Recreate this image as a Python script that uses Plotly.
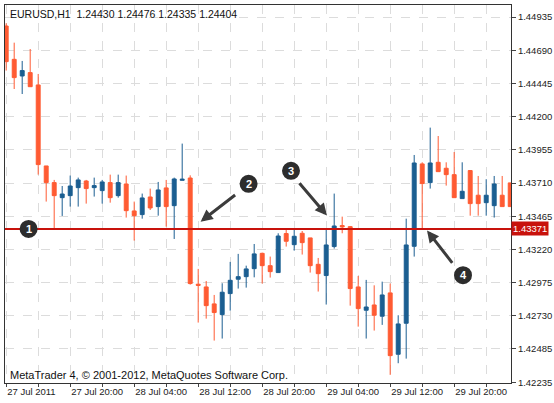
import plotly.graph_objects as go

# EURUSD H1 candles, 27 Jul 2011 12:00 onwards (one per hour)
opens = [1.44869, 1.44623, 1.44500, 1.44525, 1.44434, 1.43836, 1.43713, 1.43602, 1.43617, 1.43676,
         1.43725, 1.43676, 1.43654, 1.43713, 1.43617, 1.43703, 1.43504, 1.43477, 1.43607, 1.43536,
         1.43674, 1.43543, 1.43730, 1.43747, 1.42963, 1.42943, 1.42818, 1.42739, 1.42894, 1.43000,
         1.43019, 1.43078, 1.43191, 1.43100, 1.43049, 1.43337, 1.43255, 1.43339, 1.43305, 1.43110,
         1.43027, 1.43241, 1.43396, 1.43388, 1.42943, 1.42771, 1.42810, 1.42727, 1.42899, 1.42446,
         1.42675, 1.43243, 1.43851, 1.43713, 1.43863, 1.43819, 1.43772, 1.43595, 1.43802, 1.43620,
         1.43565, 1.43543, 1.43620, 1.43711]
highs = [1.44889, 1.44746, 1.44611, 1.44699, 1.44515, 1.43836, 1.43733, 1.43688, 1.43765, 1.43750,
         1.43733, 1.43750, 1.43733, 1.43772, 1.43772, 1.43765, 1.43573, 1.43632, 1.43669, 1.43718,
         1.43733, 1.43750, 1.44001, 1.43767, 1.43076, 1.42987, 1.42884, 1.42970, 1.43128, 1.43187,
         1.43100, 1.43260, 1.43196, 1.43167, 1.43339, 1.43376, 1.43364, 1.43356, 1.43305, 1.43157,
         1.43364, 1.43632, 1.43462, 1.43393, 1.43024, 1.42995, 1.42955, 1.42982, 1.42968, 1.42734,
         1.43447, 1.43917, 1.43863, 1.44119, 1.44057, 1.43863, 1.43939, 1.43863, 1.43806, 1.43762,
         1.43738, 1.43762, 1.43762, 1.43711]
lows = [1.44540, 1.44404, 1.44367, 1.44421, 1.43772, 1.43573, 1.43371, 1.43467, 1.43536, 1.43536,
        1.43558, 1.43610, 1.43558, 1.43565, 1.43602, 1.43455, 1.43285, 1.43447, 1.43511, 1.43469,
        1.43388, 1.43297, 1.43730, 1.42960, 1.42680, 1.42709, 1.42547, 1.42562, 1.42768, 1.42931,
        1.42938, 1.43014, 1.42968, 1.43012, 1.43049, 1.43241, 1.43211, 1.43182, 1.43049, 1.42909,
        1.42813, 1.43226, 1.43339, 1.42805, 1.42650, 1.42562, 1.42621, 1.42663, 1.42294, 1.42380,
        1.42414, 1.43167, 1.43371, 1.43669, 1.43794, 1.43691, 1.43602, 1.43595, 1.43469, 1.43469,
        1.43469, 1.43455, 1.43536, 1.43536]
closes = [1.44606, 1.44488, 1.44540, 1.44421, 1.43846, 1.43713, 1.43617, 1.43629, 1.43688, 1.43733,
          1.43669, 1.43691, 1.43718, 1.43602, 1.43713, 1.43506, 1.43469, 1.43600, 1.43526, 1.43659,
          1.43536, 1.43740, 1.43738, 1.42968, 1.42955, 1.42805, 1.42754, 1.42904, 1.42992, 1.43019,
          1.43076, 1.43187, 1.43100, 1.43056, 1.43319, 1.43280, 1.43317, 1.43270, 1.43100, 1.43041,
          1.43253, 1.43393, 1.43386, 1.42931, 1.42783, 1.42795, 1.42734, 1.42884, 1.42436, 1.42670,
          1.43253, 1.43858, 1.43706, 1.43858, 1.43794, 1.43772, 1.43602, 1.43649, 1.43558, 1.43558,
          1.43620, 1.43703, 1.43536, 1.43536]

x_tick_labels = ["27 Jul 2011", "27 Jul 20:00", "28 Jul 04:00", "28 Jul 12:00",
                 "28 Jul 20:00", "29 Jul 04:00", "29 Jul 12:00", "29 Jul 20:00"]
y_ticks = [1.44935, 1.44690, 1.44445, 1.44200, 1.43955, 1.43710, 1.43465,
           1.43220, 1.42975, 1.42730, 1.42485, 1.42235]
level = 1.43371

# circled markers: (label, bar index, price)
markers = [("1", 2.8, 1.43371), ("2", 30.3, 1.43704), ("3", 35.6, 1.43800), ("4", 57.1, 1.43030)]
# arrows: (from index, from price, to index, to price)
arrows = [(28.8, 1.43630, 24.3, 1.43425), (36.5, 1.43720, 40.1, 1.43470), (55.9, 1.43110, 52.6, 1.43360)]

BLUE = "#1b5e91"
ORANGE = "#ff5b33"
FONT = "Liberation Sans"

xs = list(range(len(opens)))
fig = go.Figure(go.Candlestick(
    x=xs, open=opens, high=highs, low=lows, close=closes,
    increasing=dict(line=dict(color=BLUE, width=1), fillcolor=BLUE),
    decreasing=dict(line=dict(color=ORANGE, width=1), fillcolor=ORANGE),
    whiskerwidth=0, hoverinfo="skip",
))

fig.add_hline(y=level, line=dict(color="#c8120c", width=2))

grid_vals = list(range(0, 64, 4))
fig.update_layout(
    width=554, height=403,
    margin=dict(l=5, r=43, t=5, b=20),
    paper_bgcolor="white", plot_bgcolor="white",
    showlegend=False,
    font=dict(family=FONT, size=9, color="#222"),
    xaxis=dict(
        range=[-0.15, 63.1], rangeslider=dict(visible=False),
        tickvals=grid_vals,
        ticktext=[x_tick_labels[i // 2] if i % 2 == 0 else "" for i in range(len(grid_vals))],
        ticklabelposition="outside right", ticks="outside", ticklen=3, tickangle=0,
        showgrid=True, gridcolor="#dcdcdc", griddash="dash", automargin=False,
        showline=True, linecolor="#333", mirror=True, zeroline=False,
        tickfont=dict(size=9.5),
    ),
    yaxis=dict(
        range=[1.42234, 1.45024], side="right",
        tickvals=y_ticks, ticktext=[f"{v:.5f}" for v in y_ticks],
        ticks="outside", ticklen=4, automargin=False,
        showgrid=True, gridcolor="#dcdcdc", griddash="dash",
        showline=True, linecolor="#333", mirror=True, zeroline=False,
        tickfont=dict(size=9.5),
    ),
)

fig.add_annotation(x=1, xref="paper", y=level, text=f"{level:.5f}", showarrow=False,
                   xanchor="left", bgcolor="#c8120c", font=dict(color="white", size=9.5),
                   borderpad=1)
fig.add_annotation(x=0.005, xref="paper", y=0.997, yref="paper", xanchor="left", yanchor="top",
                   text="EURUSD,H1  1.24430 1.24476 1.24335 1.24404", showarrow=False,
                   font=dict(size=10.5, color="#111"))
fig.add_annotation(x=0.005, xref="paper", y=0.0, yref="paper", xanchor="left", yanchor="bottom",
                   text="MetaTrader 4, © 2001-2012, MetaQuotes Software Corp.", showarrow=False,
                   font=dict(size=11, color="#111"))

for x0, y0, x1, y1 in arrows:
    fig.add_annotation(x=x1, y=y1, ax=x0, ay=y0, axref="x", ayref="y", text="",
                       showarrow=True, arrowhead=2, arrowsize=0.8, arrowwidth=3,
                       arrowcolor="#3c3c3c")

for label, mx, my in markers:
    fig.add_shape(type="circle", xref="x", yref="y", xsizemode="pixel", ysizemode="pixel",
                  xanchor=mx, yanchor=my, x0=-8, x1=8, y0=-8, y1=8,
                  fillcolor="#2d2d2d", line=dict(color="#2d2d2d"))
    fig.add_annotation(x=mx, y=my, text=f"<b>{label}</b>", showarrow=False,
                       font=dict(color="white", size=11))

# page body has a default margin; drop it so the figure sits at the window corner
fig.write_html("out.html", config=dict(displayModeBar=False),
               post_script="document.body.style.margin='0';")
